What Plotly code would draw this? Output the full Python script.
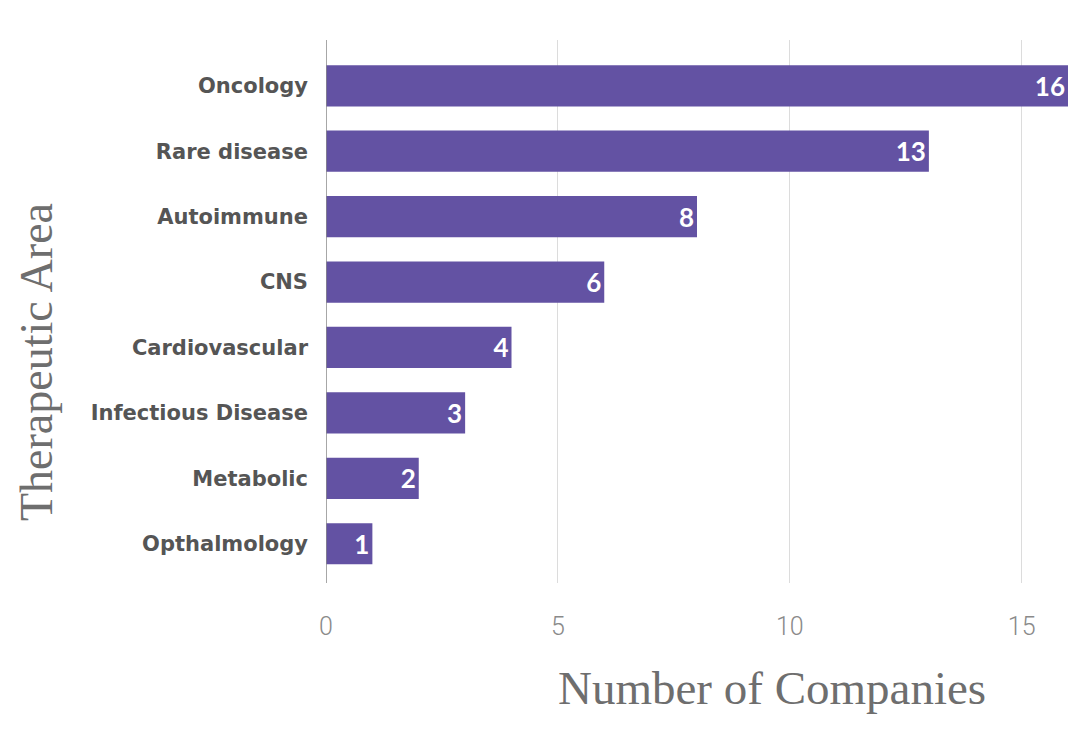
import plotly.graph_objects as go

categories = ["Oncology", "Rare disease", "Autoimmune", "CNS", "Cardiovascular",
              "Infectious Disease", "Metabolic", "Opthalmology"]
counts = [16, 13, 8, 6, 4, 3, 2, 1]
x_ticks = [0, 5, 10, 15]

# figure is placed at an 8px body offset in the page
L, R, T, B = 318, 12, 32, 161
W, H = 1072, 736
pw, ph = W - L - R, H - T - B

fig = go.Figure(go.Bar(
    x=counts, y=categories, orientation="h",
    marker=dict(color="#6352A3", line=dict(width=0)),
    width=0.63,
    text=[str(c) for c in counts], textposition="inside", insidetextanchor="end",
    textfont=dict(family="Lato, 'Noto Sans', sans-serif", size=26, color="white", weight="bold"),
    cliponaxis=False,
))

fig.update_layout(
    width=W, height=H,
    margin=dict(l=L, r=R, t=T, b=B),
    plot_bgcolor="white", paper_bgcolor="white",
    showlegend=False,
    xaxis=dict(range=[0, 16], tickvals=x_ticks, showgrid=True, gridcolor="#DCDCDC", gridwidth=1,
               zeroline=False, showline=False, ticks="",
               tickfont=dict(family="Roboto, Lato, sans-serif", size=25, color="#8A8A8A", weight=300),
               ticklabelstandoff=26),
    yaxis=dict(categoryorder="array", categoryarray=categories, range=[7.6, -0.7],
               showgrid=False, zeroline=False, showline=False, ticks="",
               tickfont=dict(family="'DejaVu Sans', sans-serif", size=21, color="#555555", weight="bold"),
               ticklabelstandoff=17),
    shapes=[dict(type="line", xref="x", yref="paper", x0=0, x1=0, y0=0, y1=1,
                 line=dict(color="#8A8A8A", width=1.5))],
    annotations=[
        dict(text="Number of Companies", xref="paper", yref="paper",
             x=(764 - L) / pw, y=(T + ph - 680) / ph,
             xanchor="center", yanchor="middle", showarrow=False,
             font=dict(family="'Liberation Serif', 'DejaVu Serif', serif", size=47, color="#6E6E6E")),
        dict(text="Therapeutic Area", xref="paper", yref="paper",
             x=(28 - L) / pw, y=(T + ph - 354) / ph,
             xanchor="center", yanchor="middle", showarrow=False, textangle=-90,
             font=dict(family="'Liberation Serif', 'DejaVu Serif', serif", size=46, color="#6E6E6E")),
    ],
)

fig.write_html("out.html")
